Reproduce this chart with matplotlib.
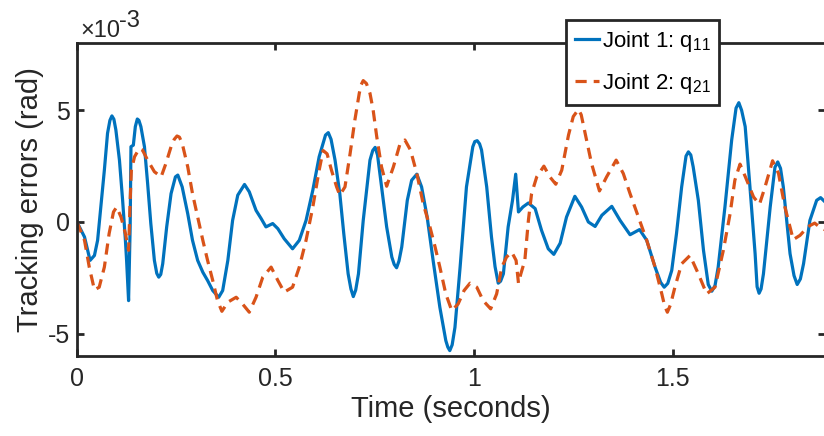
import matplotlib
matplotlib.use("Agg")
import matplotlib.pyplot as plt
import numpy as np
from matplotlib.ticker import FuncFormatter

plt.rcParams['font.family'] = ['Liberation Sans', 'DejaVu Sans']
plt.rcParams['mathtext.fontset'] = 'custom'
plt.rcParams['mathtext.rm'] = 'Liberation Sans'
plt.rcParams['mathtext.it'] = 'Liberation Sans:italic'
plt.rcParams['axes.unicode_minus'] = False

# values, tracking errors in units of 1e-3 rad
t_joint1 = [0.000, 0.019, 0.033, 0.044, 0.052, 0.060, 0.069, 0.077, 0.083, 0.088,
            0.093, 0.098, 0.107, 0.115, 0.122, 0.125, 0.130, 0.134, 0.136, 0.142,
            0.147, 0.152, 0.156, 0.161, 0.170, 0.178, 0.186, 0.195, 0.201, 0.206,
            0.211, 0.216, 0.226, 0.237, 0.248, 0.254, 0.265, 0.279, 0.291, 0.304,
            0.317, 0.329, 0.342, 0.357, 0.367, 0.380, 0.392, 0.405, 0.422, 0.434,
            0.451, 0.464, 0.476, 0.493, 0.506, 0.522, 0.543, 0.560, 0.577, 0.594,
            0.610, 0.626, 0.633, 0.640, 0.650, 0.662, 0.672, 0.683, 0.690, 0.696,
            0.702, 0.709, 0.721, 0.738, 0.745, 0.751, 0.757, 0.763, 0.780, 0.793,
            0.799, 0.805, 0.811, 0.818, 0.832, 0.843, 0.856, 0.868, 0.882, 0.897,
            0.914, 0.929, 0.934, 0.939, 0.945, 0.952, 0.965, 0.981, 0.997, 1.002,
            1.008, 1.014, 1.019, 1.032, 1.044, 1.053, 1.061, 1.067, 1.074, 1.086,
            1.097, 1.105, 1.112, 1.123, 1.137, 1.154, 1.170, 1.187, 1.201, 1.217,
            1.233, 1.254, 1.271, 1.288, 1.305, 1.322, 1.347, 1.368, 1.393, 1.417,
            1.435, 1.456, 1.470, 1.479, 1.488, 1.498, 1.510, 1.523, 1.534, 1.540,
            1.546, 1.552, 1.565, 1.578, 1.590, 1.599, 1.607, 1.615, 1.632, 1.649,
            1.660, 1.667, 1.674, 1.683, 1.695, 1.708, 1.713, 1.718, 1.723, 1.729,
            1.746, 1.758, 1.765, 1.772, 1.779, 1.796, 1.806, 1.814, 1.822, 1.830,
            1.846, 1.863, 1.873, 1.884]
e_joint1 = [0.00, -0.67, -1.72, -1.50, -0.82, 0.67, 2.32, 3.97, 4.55, 4.75,
            4.60, 4.12, 2.77, 0.97, -0.82, -1.72, -3.52, -0.22, 3.37, 3.44,
            4.27, 4.61, 4.55, 4.27, 3.37, 1.72, -0.07, -1.72, -2.30, -2.47,
            -2.35, -1.87, -0.22, 1.27, 2.02, 2.10, 1.57, 0.37, -0.82, -1.72,
            -2.25, -2.62, -3.07, -3.37, -3.07, -1.72, 0.07, 1.20, 1.68, 1.35,
            0.52, 0.15, -0.22, -0.07, -0.30, -0.75, -1.20, -0.82, 0.07, 1.42,
            2.92, 3.89, 4.00, 3.70, 2.77, 1.27, -0.52, -2.32, -3.00, -3.34,
            -3.05, -2.32, 0.07, 2.77, 3.20, 3.34, 3.00, 2.17, -0.22, -1.57,
            -1.90, -2.05, -1.75, -1.12, 0.97, 1.87, 2.14, 1.57, 0.22, -1.72,
            -3.82, -5.31, -5.60, -5.76, -5.50, -4.72, -2.02, 1.57, 3.37, 3.60,
            3.64, 3.50, 3.22, 1.57, -0.67, -2.00, -2.74, -2.65, -2.32, -0.22,
            0.97, 2.14, 0.45, 0.67, 0.85, 0.60, -0.37, -1.20, -1.45, -0.95,
            0.22, 1.15, 0.67, 0.00, -0.20, 0.30, 0.70, 0.07, -0.57, -0.34,
            -0.82, -2.02, -2.70, -2.92, -2.75, -2.17, -0.52, 1.57, 2.95, 3.14,
            3.00, 2.47, 0.97, -1.27, -2.80, -3.10, -2.85, -2.02, 0.67, 3.67,
            5.10, 5.34, 5.00, 4.27, 1.57, -1.42, -2.90, -3.19, -3.00, -2.32,
            0.67, 2.45, 2.69, 2.40, 1.57, -1.42, -2.40, -2.80, -2.55, -1.87,
            0.07, 0.97, 1.09, 0.90]

t_joint2 = [0.000, 0.019, 0.031, 0.044, 0.056, 0.069, 0.081, 0.092, 0.100, 0.111,
            0.122, 0.130, 0.134, 0.137, 0.145, 0.157, 0.165, 0.178, 0.195, 0.212,
            0.224, 0.237, 0.245, 0.252, 0.258, 0.265, 0.279, 0.291, 0.304, 0.317,
            0.329, 0.342, 0.354, 0.365, 0.380, 0.401, 0.417, 0.434, 0.451, 0.468,
            0.489, 0.506, 0.522, 0.543, 0.560, 0.577, 0.594, 0.610, 0.620, 0.630,
            0.641, 0.654, 0.662, 0.675, 0.688, 0.700, 0.711, 0.716, 0.721, 0.729,
            0.738, 0.746, 0.755, 0.767, 0.780, 0.797, 0.814, 0.826, 0.840, 0.856,
            0.872, 0.889, 0.902, 0.914, 0.929, 0.944, 0.960, 0.975, 0.990, 1.007,
            1.023, 1.042, 1.057, 1.070, 1.082, 1.095, 1.106, 1.112, 1.118, 1.128,
            1.137, 1.145, 1.158, 1.176, 1.191, 1.206, 1.221, 1.238, 1.250, 1.263,
            1.270, 1.280, 1.296, 1.316, 1.334, 1.358, 1.376, 1.393, 1.414, 1.435,
            1.456, 1.473, 1.480, 1.487, 1.495, 1.506, 1.523, 1.544, 1.565, 1.586,
            1.607, 1.628, 1.645, 1.657, 1.670, 1.687, 1.704, 1.719, 1.733, 1.752,
            1.767, 1.783, 1.804, 1.821, 1.842, 1.858, 1.872, 1.884]
e_joint2 = [0.00, -0.82, -2.02, -3.04, -2.92, -2.02, -0.52, 0.45, 0.67, 0.22,
            -0.52, -1.27, 0.97, 2.32, 2.92, 3.29, 3.22, 2.77, 2.25, 2.02,
            2.62, 3.37, 3.70, 3.85, 3.80, 3.52, 2.47, 1.27, 0.22, -0.82,
            -1.72, -2.62, -3.52, -4.00, -3.59, -3.37, -3.67, -4.04, -3.37, -2.47,
            -2.02, -2.62, -3.14, -2.92, -2.02, -0.82, 0.67, 2.32, 3.20, 3.05,
            2.32, 1.57, 1.20, 1.57, 3.07, 4.57, 5.76, 6.15, 6.33, 6.20,
            5.76, 5.01, 3.82, 2.47, 1.60, 2.47, 3.52, 3.67, 3.22, 2.17,
            0.82, -0.22, -1.12, -2.02, -3.22, -3.97, -3.67, -3.07, -2.74, -2.92,
            -3.52, -3.89, -3.22, -2.02, -1.57, -1.35, -1.72, -2.74, -2.32, -1.72,
            0.07, 1.27, 2.02, 2.50, 2.02, 1.69, 2.32, 3.89, 4.72, 5.04,
            4.80, 3.97, 2.62, 1.39, 2.02, 2.77, 2.17, 1.27, 0.22, -0.82,
            -2.02, -3.22, -3.75, -4.04, -3.70, -2.92, -1.87, -1.50, -2.32, -3.22,
            -2.92, -1.27, 0.37, 1.87, 2.59, 1.87, 1.12, 0.79, 1.57, 2.74,
            2.17, 0.67, -0.79, -0.60, -0.20, -0.05, -0.25, -0.35]

labels = ['Joint 1: q$_{11}$', 'Joint 2: q$_{21}$']
xticks = [0, 0.5, 1, 1.5]
yticks = [-5e-3, 0, 5e-3]

blue = '#0072BD'
orange = '#D95319'
dark = '#262626'

fig = plt.figure(figsize=(8.24, 4.36), dpi=100)
ax = fig.add_axes([0.0934, 0.1835, 0.9078, 0.7172])

ax.plot(t_joint1, np.array(e_joint1) * 1e-3, color=blue, lw=2.3,
        solid_joinstyle='round', label=labels[0])
ax.plot(t_joint2, np.array(e_joint2) * 1e-3, color=orange, lw=2.3,
        dashes=(3.5, 2.2), dash_joinstyle='round', label=labels[1])

ax.set_xlim(0, 1.884)
ax.set_ylim(-6e-3, 8e-3)
ax.set_xticks(xticks)
ax.set_xticklabels(['0', '0.5', '1', '1.5'])
ax.set_yticks(yticks)
ax.yaxis.set_major_formatter(FuncFormatter(lambda v, p: '%g' % round(v * 1e3, 6)))

# exponent label in the top-left corner
fig.text(0.097, 0.914, '\u00d710', fontsize=17, color=dark, va='baseline')
fig.text(0.1445, 0.937, '-3', fontsize=17, color=dark, va='baseline')

for s in ax.spines.values():
    s.set_linewidth(2.0)
    s.set_color(dark)
ax.tick_params(direction='in', length=5, width=2, colors=dark,
               labelsize=18, top=True, right=True)
ax.tick_params(axis='x', pad=8)
ax.tick_params(axis='y', pad=5)

ax.set_xlabel('Time (seconds)', fontsize=21, color=dark, labelpad=3)
ax.set_ylabel('Tracking errors (rad)', fontsize=21, color=dark, labelpad=3)

leg = ax.legend(loc='upper right', bbox_to_anchor=(0.873, 0.954),
                bbox_transform=fig.transFigure, fontsize=16, fancybox=False,
                framealpha=1, edgecolor=dark, borderaxespad=0, borderpad=0.4,
                handlelength=1.1, handletextpad=0.1, labelspacing=0.75)
leg.get_frame().set_linewidth(2.0)

fig.savefig('out.png', dpi=100)
